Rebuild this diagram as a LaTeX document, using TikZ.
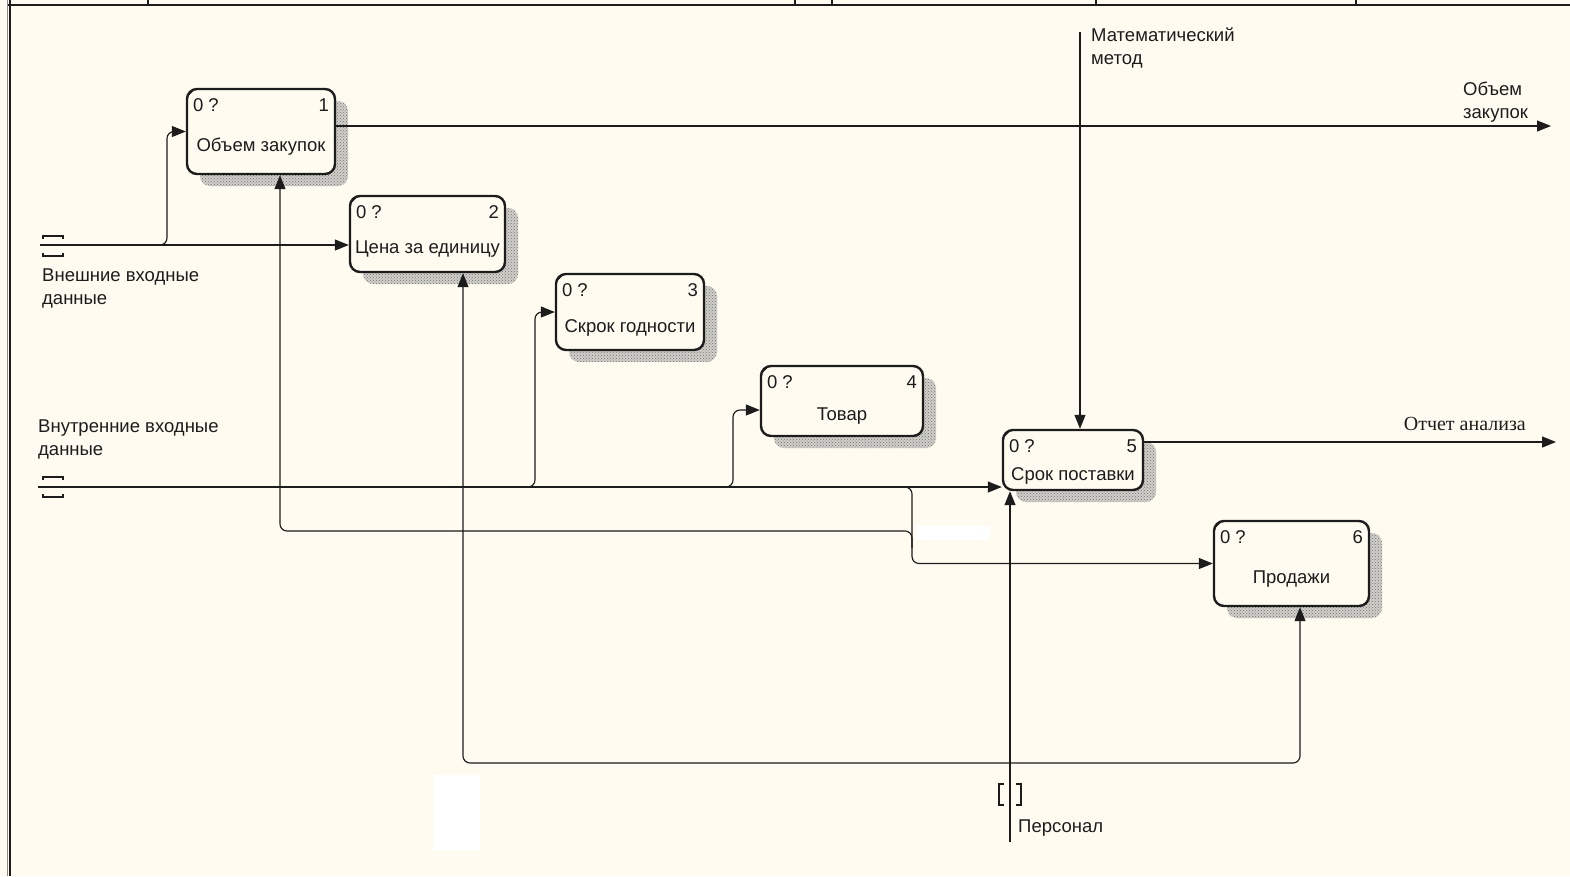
\documentclass[tikz,border=0pt]{standalone}
\usepackage{fontspec}
\setmainfont{Liberation Sans}
\newfontfamily\serifru{Liberation Serif}
\usetikzlibrary{arrows.meta,calc,patterns}
\definecolor{bgc}{RGB}{255,251,240}
\definecolor{ink}{RGB}{28,28,28}
\definecolor{shadowc}{RGB}{208,206,200}
\newcommand\idefbox[7]{%
  \pgfmathsetmacro\bw{#4-#2}\pgfmathsetmacro\bh{#5-#3}%
  \pgfmathsetmacro\bcx{(#2+#4)/2}\pgfmathsetmacro\bcy{(#3+#5)/2}%
  \path[fill=shadowc, rounded corners=10pt] (#2+13,#3+12) rectangle (#4+13,#5+12);
  \path[pattern=crosshatch dots, pattern color=black!55, rounded corners=10pt] (#2+13,#3+12) rectangle (#4+13,#5+12);
  \node[box, minimum width=\bw pt, minimum height=\bh pt] (#1) at (\bcx,\bcy) {};
  \draw[ink, line width=1pt] ($(#1.north west)+(2,8)$) -- ($(#1.north west)+(8,2)$);
  \node[lbl, anchor=west] (#1q) at ($(#1.north west)+(7,17)$) {0 ?};
  \node[lbl, anchor=east] (#1n) at ($(#1.north east)+(-7,17)$) {#6};
  \node[lbl] (#1t) at ($(#1.center)+(0,15.5)$) {#7};
}
\begin{document}
\begin{tikzpicture}[x=1pt,y=-1pt,
  flow/.style={draw=ink, line width=1.15pt, -{Triangle[length=14pt,width=11pt]}, rounded corners=7pt},
  wire/.style={draw=ink, line width=1.15pt, rounded corners=7pt},
  box/.style={draw=ink, line width=2.4pt, fill=bgc, rounded corners=10pt, inner sep=0pt},
  lbl/.style={font=\fontsize{18.5}{23}\selectfont, inner sep=0pt, text=ink, align=left},
  brk/.style={draw=ink, line width=1.1pt}]
\fill[bgc] (0,0) rectangle (1570,876);
\useasboundingbox (0,0) rectangle (1570,876);
% frame
\draw[ink, line width=1.6pt] (8,5) -- (1570,5);
\foreach \xx in {148,795,832,1096,1356} \draw[ink, line width=1.2pt] (\xx,0) -- (\xx,5);
\draw[black!45, line width=1pt] (7.5,0) -- (7.5,876);
\draw[ink, line width=2pt] (10,0) -- (10,876);
% artifacts
\fill[white] (433,775) rectangle (480,850);
\fill[white] (916,526) rectangle (990,540);
% boxes
\idefbox{b1}{187}{89}{335}{174}{1}{Объем закупок}
\idefbox{b2}{350}{196}{505}{272}{2}{Цена за единицу}
\idefbox{b3}{556}{274}{704}{350}{3}{Скрок годности}
\idefbox{b4}{761}{366}{923}{436}{4}{Товар}
\idefbox{b5}{1003}{430}{1143}{490}{5}{Срок поставки}
\idefbox{b6}{1214}{521}{1369}{606}{6}{Продажи}
% coordinates
\coordinate (ein) at (40,245);
\coordinate (iin) at (38,487);
\coordinate (j1) at (150,245);
\coordinate (j3) at (520,487);
\coordinate (j4) at (718,487);
\coordinate (j6) at (895,487);
\coordinate (j7) at (463,531);
\coordinate (j8) at (1010,763);
\coordinate (mth) at (1080,32);
\coordinate (pers) at (1010,842);
\coordinate (out1) at (1551,126);
\coordinate (out5) at (1556,442);
% external inputs
\draw[flow] (ein) -- (b2.west |- ein);
\draw[flow] (j1) -- (167,245) |- (b1.west);
% internal inputs
\draw[flow] (iin) -- (b5.west |- iin);
\draw[flow] (j3) -- (535,487) |- (b3.west);
\draw[flow] (j4) -- (733,487) |- ($(b4.west)+(0,9)$);
\draw[flow] (j6) -- (912,487) |- (b6.west);
% internal bundle at y=531
\draw[flow] (j7) -| ($(b1.south)+(19,0)$);
\draw[wire] (j7) -- (912,531) -- (912,548);
% personnel
\draw[flow] (pers) -- (pers |- b5.south);
\draw[flow] (j8) -| ($(b2.south)+(35.5,0)$);
\draw[flow] (j8) -| ($(b6.south)+(8.5,0)$);
% control
\draw[flow] (mth) -- (mth |- b5.north);
% outputs
\draw[flow] (b1.east |- out1) -- (out1);
\draw[flow] (b5.east |- out5) -- (out5);
% tunnel brackets
\draw[brk] (43,239) -- (43,236) -- (63,236) -- (63,239);
\draw[brk] (43,253) -- (43,256) -- (63,256) -- (63,253);
\draw[brk] (43,480) -- (43,477) -- (63,477) -- (63,480);
\draw[brk] (43,494) -- (43,497) -- (63,497) -- (63,494);
\draw[brk] (1004,784) -- (999,784) -- (999,805) -- (1004,805);
\draw[brk] (1016,784) -- (1021,784) -- (1021,805) -- (1016,805);
% labels
\node[lbl, anchor=north west] (lext) at (42,269) {Внешние входные\\данные};
\node[lbl, anchor=north west] (lint) at (38,420) {Внутренние входные\\данные};
\node[lbl, anchor=north west] (lmth) at (1091,28) {Математический\\метод};
\node[lbl, anchor=north west] (lout1) at (1463,82) {Объем\\закупок};
\node[lbl, anchor=east, font=\serifru\fontsize{20}{24}\selectfont] (lout5) at (1526,424) {Отчет анализа};
\node[lbl, anchor=west] (lpers) at (1018,828) {Персонал};
\end{tikzpicture}
\end{document}
